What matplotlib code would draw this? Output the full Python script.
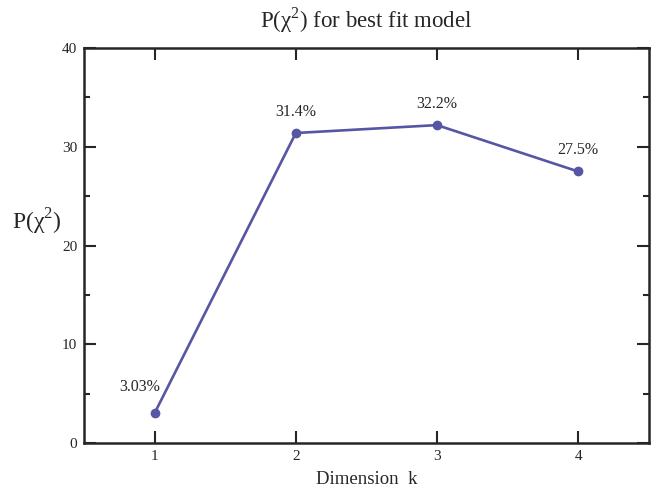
import matplotlib
matplotlib.use("Agg")
import matplotlib.pyplot as plt
from matplotlib.ticker import MultipleLocator

plt.rcParams['font.family'] = ['Liberation Serif', 'DejaVu Serif']
plt.rcParams['mathtext.fontset'] = 'custom'
plt.rcParams['mathtext.rm'] = 'Liberation Serif'

dims = [1, 2, 3, 4]
prob = [3.03, 31.4, 32.2, 27.5]
labels = ['3.03%', '31.4%', '32.2%', '27.5%']
label_off = [(-11, 13), (0, 9.5), (0, 9.5), (0, 9.5)]

color = '#5656a4'
ink = '#262626'

fig = plt.figure(figsize=(6.62, 4.96), dpi=100)
ax = fig.add_axes([0.127, 0.107, 0.853, 0.796])

ax.plot(dims, prob, '-o', color=color, lw=1.9, ms=6)
for x, y, t, off in zip(dims, prob, labels, label_off):
    ax.annotate(t, (x, y), xytext=off, textcoords='offset points',
                ha='center', va='bottom', fontsize=11.5, color=ink)

ax.set_xlim(0.5, 4.5)
ax.set_ylim(0, 40)
ax.set_xticks(dims)
ax.yaxis.set_major_locator(MultipleLocator(10))
ax.yaxis.set_minor_locator(MultipleLocator(5))
ax.tick_params(which='both', direction='in', top=True, right=True,
               width=1.5, labelsize=11, colors=ink, pad=5)
ax.tick_params(which='major', length=8.5)
ax.tick_params(which='minor', length=4.5)
for s in ax.spines.values():
    s.set_linewidth(1.8)
    s.set_color(ink)

ax.set_title('P(χ$^{2}$) for best fit model', fontsize=16.5, pad=15, color=ink)
ax.set_xlabel('Dimension  k', fontsize=13.5, labelpad=6, color=ink)
ax.set_ylabel('P(χ$^{2}$)', fontsize=17, rotation=0, color=ink,
              ha='center', va='center')
ax.yaxis.set_label_coords(-0.083, 0.56)

fig.savefig('out.png', dpi=100)
